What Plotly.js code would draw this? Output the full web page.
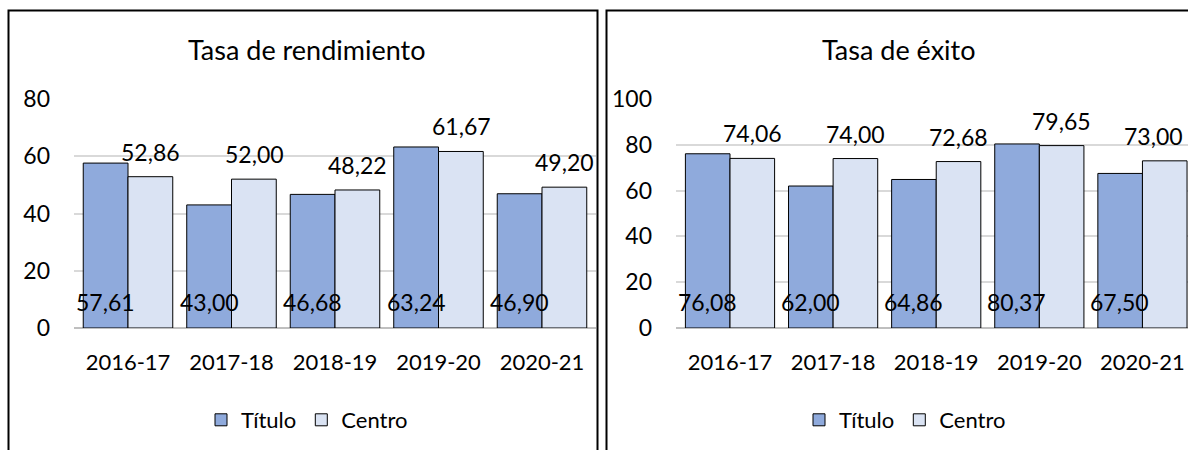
<!DOCTYPE html>
<html>
<head>
<meta charset="utf-8">
<script src="https://cdn.plot.ly/plotly-3.0.1.min.js"></script>
<style>
html,body{margin:0;padding:0;overflow:hidden;background:#fff;}
#chart{width:1200px;height:450px;}
</style>
</head>
<body>
<div id="chart"></div>
<script>
// ---- Data ----
const cursos = ['2016-17', '2017-18', '2018-19', '2019-20', '2020-21'];
const rendimientoTitulo = [57.61, 43.00, 46.68, 63.24, 46.90];
const rendimientoCentro = [52.86, 52.00, 48.22, 61.67, 49.20];
const exitoTitulo = [76.08, 62.00, 64.86, 80.37, 67.50];
const exitoCentro = [74.06, 74.00, 72.68, 79.65, 73.00];
const seriesNames = ['Título', 'Centro'];
const chartTitles = ['Tasa de rendimiento', 'Tasa de éxito'];

// ---- Styles ----
const W = 1200, H = 450;
const colTitulo = '#8faadc', colCentro = '#dae3f3';
const FONT = 'Lato, "Open Sans", sans-serif';
const FS = 23;
const px = v => v / W;
const py = v => (H - v) / H;
const fmt = v => v.toFixed(2).replace('.', ',');

function barTrace(name, y, color, xa, ya, leg) {
  return {
    type: 'bar', name: name, x: cursos, y: y,
    xaxis: xa, yaxis: ya, legend: leg,
    marker: {color: color, line: {color: '#000', width: 1}},
    hoverinfo: 'skip'
  };
}

const data = [
  barTrace(seriesNames[0], rendimientoTitulo, colTitulo, 'x', 'y', 'legend'),
  barTrace(seriesNames[1], rendimientoCentro, colCentro, 'x', 'y', 'legend'),
  barTrace(seriesNames[0], exitoTitulo, colTitulo, 'x2', 'y2', 'legend2'),
  barTrace(seriesNames[1], exitoCentro, colCentro, 'x2', 'y2', 'legend2')
];

const halfBar = 22.5;
const annotations = [];
function addLabels(tit, cen, xr, yr, clampLast) {
  cursos.forEach((c, i) => {
    annotations.push({x: c, y: 0, xref: xr, yref: yr, text: fmt(tit[i]), showarrow: false,
      xanchor: 'center', yanchor: 'middle', xshift: -halfBar, yshift: 26,
      font: {family: FONT, size: FS, color: '#000'}});
    const last = clampLast && i === cursos.length - 1;
    annotations.push({x: c, y: cen[i], xref: xr, yref: yr, text: fmt(cen[i]), showarrow: false,
      xanchor: last ? 'right' : 'center', yanchor: 'middle',
      xshift: last ? 2 * halfBar - 2 : halfBar, yshift: 25,
      font: {family: FONT, size: FS, color: '#000'}});
  });
}
addLabels(rendimientoTitulo, rendimientoCentro, 'x', 'y', false);
addLabels(exitoTitulo, exitoCentro, 'x2', 'y2', true);

annotations.push({xref: 'paper', yref: 'paper', x: px(307), y: py(49), text: chartTitles[0],
  showarrow: false, xanchor: 'center', yanchor: 'middle', font: {family: FONT, size: 27, color: '#000'}});
annotations.push({xref: 'paper', yref: 'paper', x: px(899), y: py(49), text: chartTitles[1],
  showarrow: false, xanchor: 'center', yanchor: 'middle', font: {family: FONT, size: 27, color: '#000'}});

const yDom = [py(328), py(99)];
const xAxisCommon = {type: 'category', showgrid: false, zeroline: false, showline: false,
  ticks: '', ticklabelstandoff: 19, tickfont: {family: FONT, size: 22, color: '#000'}, fixedrange: true};
const yAxisCommon = {dtick: 20, showgrid: true, gridcolor: '#d9d9d9', gridwidth: 2,
  zeroline: true, zerolinecolor: '#bfbfbf', zerolinewidth: 2, showline: false, ticks: '',
  ticklabelstandoff: 23, tickfont: {family: FONT, size: FS, color: '#000'}, fixedrange: true};

const legendCommon = {orientation: 'h', xanchor: 'center', yanchor: 'middle', y: py(420),
  font: {family: FONT, size: 22, color: '#000'}, bgcolor: 'rgba(0,0,0,0)', traceorder: 'normal',
  itemwidth: 30};

const layout = {
  width: W, height: H,
  margin: {l: 0, r: 0, t: 0, b: 0},
  paper_bgcolor: '#fff', plot_bgcolor: '#fff',
  font: {family: FONT, size: FS, color: '#000'},
  barmode: 'group', bargap: 0.135, bargroupgap: 0,
  showlegend: true,
  xaxis: Object.assign({}, xAxisCommon, {domain: [px(74), px(596)], anchor: 'y'}),
  yaxis: Object.assign({}, yAxisCommon, {domain: yDom, range: [0, 80], anchor: 'x'}),
  xaxis2: Object.assign({}, xAxisCommon, {domain: [px(676), px(1194)], anchor: 'y2'}),
  yaxis2: Object.assign({}, yAxisCommon, {domain: yDom, range: [0, 100], anchor: 'x2'}),
  legend: Object.assign({}, legendCommon, {x: px(307)}),
  legend2: Object.assign({}, legendCommon, {x: px(905)}),
  annotations: annotations,
  shapes: [
    {type: 'rect', xref: 'paper', yref: 'paper', x0: px(8.5), x1: px(597.5), y0: -0.2, y1: py(10.5),
      line: {color: '#000', width: 2}, fillcolor: 'rgba(0,0,0,0)', layer: 'above'},
    {type: 'rect', xref: 'paper', yref: 'paper', x0: px(606.5), x1: 1.2, y0: -0.2, y1: py(10.5),
      line: {color: '#000', width: 2}, fillcolor: 'rgba(0,0,0,0)', layer: 'above'}
  ]
};

Plotly.newPlot('chart', data, layout, {displayModeBar: false, staticPlot: true});
</script>
</body>
</html>
